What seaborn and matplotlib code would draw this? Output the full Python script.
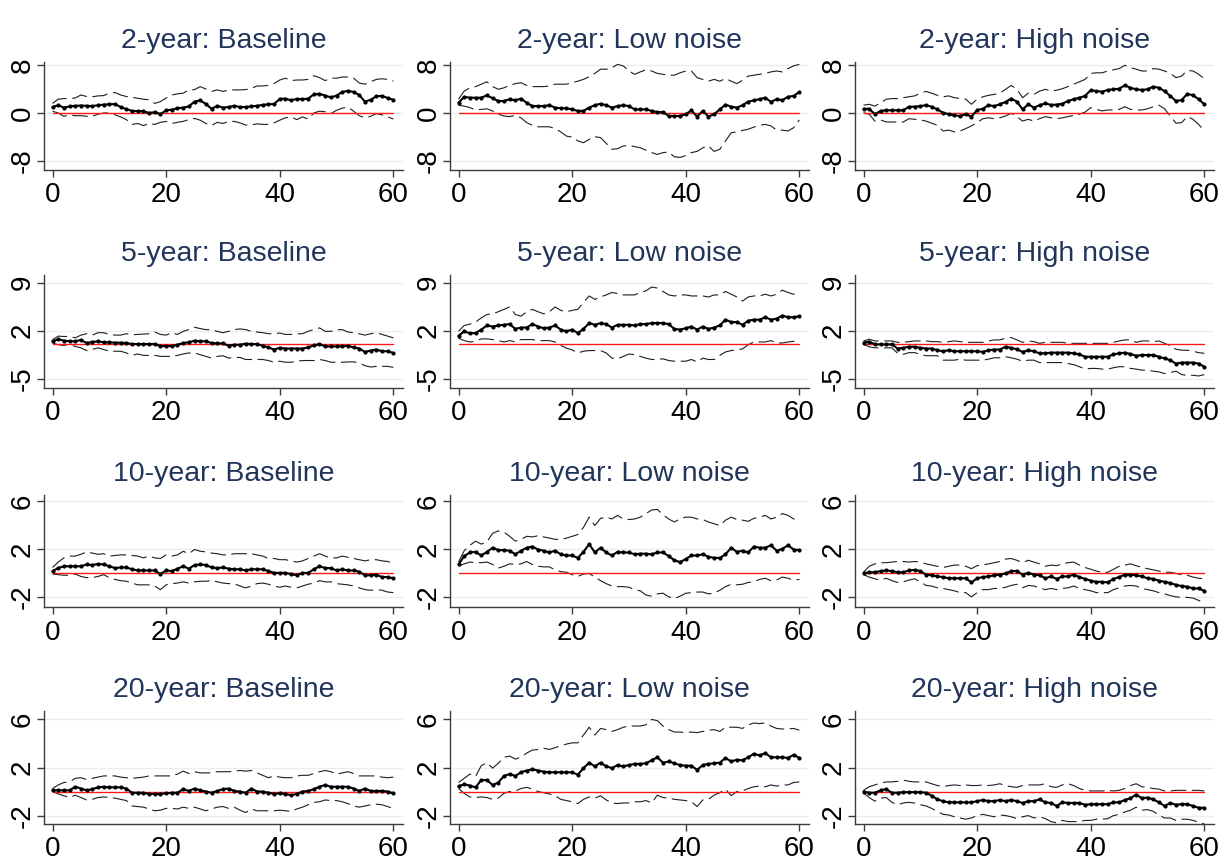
import numpy as np
import pandas as pd
import matplotlib
matplotlib.use("Agg")
import matplotlib.pyplot as plt
import seaborn as sns

sns.set_theme(style="white")
plt.rcParams["font.family"] = ["Liberation Sans", "DejaVu Sans"]
plt.rcParams["axes.unicode_minus"] = False

# ---------------- data ----------------
horizon = list(range(61))
maturities = ["2-year", "5-year", "10-year", "20-year"]
scenarios = ["Baseline", "Low noise", "High noise"]
yticks_by_row = [[-8, 0, 8], [-5, 2, 9], [-2, 2, 6], [-2, 2, 6]]
xticks = [0, 20, 40, 60]

# 2-year
m2_base = [1.0, 1.3, 0.9, 1.1, 1.2, 1.25, 1.2, 1.15, 1.3, 1.4, 1.45,
           1.5, 1.0, 0.65, 0.35, 0.3, 0.3, 0.0, 0.15, -0.2, 0.45,
           0.55, 0.8, 0.9, 1.1, 1.9, 2.1, 1.5, 0.7, 1.2, 0.9,
           1.0, 1.2, 1.0, 1.0, 1.1, 1.2, 1.35, 1.45, 1.5, 2.35,
           2.4, 2.1, 2.35, 2.3, 2.4, 3.1, 3.2, 2.9, 2.6, 2.9,
           3.5, 3.7, 3.5, 3.0, 1.9, 2.2, 2.8, 2.85, 2.5, 2.2]
u2_base = [1.6, 2.3, 2.4, 2.4, 2.5, 3.0, 2.75, 2.7, 2.85, 2.9, 3.3,
           3.4, 3.0, 2.75, 2.6, 2.45, 2.3, 2.2, 1.6, 1.9, 2.5,
           3.0, 3.2, 3.3, 3.85, 3.9, 4.4, 4.0, 3.6, 3.85, 3.6,
           3.8, 3.85, 3.85, 3.9, 4.1, 4.5, 4.5, 4.6, 4.9, 5.5,
           5.8, 5.4, 5.5, 5.5, 5.6, 6.2, 5.9, 5.4, 5.8, 5.8,
           6.0, 6.0, 5.8, 5.0, 4.8, 5.2, 5.6, 5.7, 5.6, 5.3]
l2_base = [0.3, 0.0, -0.55, -0.3, -0.45, -0.45, -0.55, -0.55, -0.2, 0.0, 0.0,
           -0.3, -0.65, -1.1, -1.9, -1.75, -2.1, -1.75, -1.9, -1.55, -1.4,
           -1.75, -1.55, -1.4, -1.1, -0.9, -1.2, -1.75, -2.1, -1.55, -1.75,
           -1.4, -1.4, -1.65, -2.0, -2.0, -1.8, -1.9, -1.9, -1.65, -1.2,
           -0.8, -0.65, -1.1, -0.65, -1.0, 0.0, 0.3, 0.2, -0.1, 0.45,
           0.8, 1.0, 0.3, -0.45, -0.8, -0.55, -0.1, -0.3, -0.65, -1.0]

m2_low = [1.7, 2.7, 2.55, 2.55, 2.55, 2.95, 2.45, 2.0, 2.0, 2.3, 2.1,
          2.4, 1.7, 1.15, 1.15, 1.15, 1.3, 0.9, 0.8, 0.8, 0.6,
          0.35, 0.35, 0.9, 1.3, 1.55, 1.3, 0.9, 1.15, 1.3, 1.15,
          0.6, 0.6, 0.6, 0.35, 0.15, 0.15, -0.5, -0.5, -0.5, -0.2,
          0.45, -0.6, 0.35, -0.6, -0.2, 0.6, 1.4, 1.05, 0.9, 1.3,
          1.9, 2.1, 2.3, 2.55, 1.85, 2.3, 2.15, 2.7, 2.85, 3.5]
u2_low = [2.3, 3.65, 4.2, 4.4, 4.8, 5.2, 4.4, 3.95, 4.2, 4.6, 4.9,
          5.05, 4.6, 4.4, 4.4, 4.4, 4.5, 4.8, 4.8, 4.8, 5.05,
          5.3, 5.6, 6.05, 6.6, 7.3, 7.3, 7.55, 8.1, 7.85, 7.0,
          6.45, 6.85, 7.2, 7.0, 6.6, 6.45, 6.3, 6.3, 6.7, 7.0,
          7.0, 5.9, 5.6, 5.3, 5.6, 5.3, 5.75, 5.3, 4.9, 5.45,
          6.15, 6.3, 6.45, 6.6, 6.85, 7.0, 6.85, 7.4, 7.85, 8.1]
l2_low = [1.3, 1.15, 0.9, 0.5, 0.6, 0.7, 0.35, -0.2, -0.5, -0.6, -0.4,
          -0.8, -1.6, -2.05, -2.3, -2.3, -2.3, -2.6, -3.15, -3.85, -4.0,
          -4.65, -4.95, -4.4, -3.95, -4.1, -5.05, -6.05, -5.95, -5.5, -5.4,
          -5.6, -5.8, -6.2, -6.6, -6.9, -6.6, -6.5, -7.3, -7.4, -7.1,
          -6.6, -6.4, -5.8, -5.5, -6.4, -6.05, -4.65, -3.3, -3.15, -2.9,
          -2.7, -2.35, -2.05, -1.9, -2.15, -2.85, -2.85, -3.0, -2.45, -1.15]

m2_high = [0.7, 0.7, -0.2, 0.35, 0.45, 0.45, 0.45, 0.45, 1.05, 1.05, 1.15,
           1.3, 1.05, 0.6, 0.05, -0.2, -0.4, -0.5, -0.2, -0.6, 0.5,
           0.7, 1.3, 1.15, 1.45, 1.85, 2.4, 1.9, 0.6, 1.45, 0.9,
           1.3, 1.6, 1.35, 1.4, 1.55, 2.0, 2.3, 2.55, 2.85, 3.8,
           3.65, 3.55, 3.85, 3.95, 4.05, 4.6, 4.2, 3.95, 3.85, 3.95,
           4.4, 4.2, 3.65, 2.85, 2.0, 2.15, 3.2, 2.95, 2.3, 1.45]
u2_high = [1.3, 1.45, 1.15, 1.7, 2.3, 2.4, 2.4, 2.55, 2.7, 2.85, 3.3,
           3.6, 3.3, 2.95, 2.7, 2.85, 2.55, 2.4, 2.3, 1.45, 2.3,
           2.7, 2.95, 3.1, 3.3, 3.95, 4.6, 3.95, 2.55, 3.3, 3.1,
           3.65, 3.95, 3.65, 3.8, 4.05, 4.4, 4.8, 5.2, 5.6, 6.6,
           6.7, 6.7, 7.0, 7.2, 7.4, 7.95, 7.55, 7.3, 7.0, 7.0,
           7.4, 7.3, 7.0, 6.6, 5.9, 6.15, 7.1, 7.0, 6.45, 5.7]
l2_high = [0.05, -0.2, -1.35, -1.15, -1.5, -1.5, -1.5, -1.5, -0.95, -1.05, -1.15,
           -1.35, -1.7, -2.05, -3.0, -2.85, -3.15, -3.0, -2.6, -2.15, -1.6,
           -0.95, -0.8, -0.95, -0.8, -0.5, -0.05, -0.6, -1.35, -1.05, -1.35,
           -0.95, -0.6, -0.8, -0.95, -0.8, -0.6, -0.4, -0.2, 0.15, 0.9,
           0.6, 0.35, 0.5, 0.5, 0.6, 1.05, 0.6, 0.5, 0.5, 0.7,
           1.05, 1.3, 0.7, -0.5, -1.7, -1.6, -0.6, -1.05, -1.9, -3.0]

# 5-year
m5_base = [0.45, 0.75, 0.55, 0.45, 0.45, 0.65, 0.2, 0.35, 0.45, 0.3, 0.3,
           0.25, 0.25, 0.2, 0.05, 0.05, 0.05, 0.05, 0.05, -0.25, -0.25,
           -0.25, -0.05, 0.2, 0.3, 0.55, 0.45, 0.45, 0.2, 0.15, 0.15,
           -0.2, -0.05, -0.05, 0.1, 0.05, 0.05, -0.2, -0.45, -0.75, -0.5,
           -0.6, -0.6, -0.6, -0.6, -0.45, -0.15, 0.05, -0.3, -0.3, -0.3,
           -0.3, -0.2, -0.45, -0.6, -1.1, -0.9, -0.75, -1.0, -1.0, -1.25]
u5_base = [0.7, 1.2, 1.15, 1.15, 0.95, 1.35, 1.55, 1.35, 1.7, 1.7, 1.45,
           1.35, 1.35, 1.55, 1.4, 1.45, 1.5, 1.55, 1.8, 1.45, 1.35,
           1.7, 1.45, 1.9, 2.15, 2.5, 2.3, 2.15, 2.15, 1.9, 1.7,
           1.9, 2.15, 2.25, 2.15, 1.9, 1.8, 1.7, 1.55, 1.55, 1.65,
           1.45, 1.45, 1.55, 1.55, 1.9, 2.15, 2.4, 1.9, 1.9, 2.15,
           2.15, 1.8, 1.7, 1.55, 1.35, 1.55, 1.7, 1.45, 1.2, 0.95]
l5_base = [0.2, -0.05, -0.15, 0.05, -0.3, -0.5, -0.9, -0.75, -0.5, -0.75, -1.0,
           -1.0, -1.0, -1.25, -1.6, -1.4, -1.6, -1.6, -1.6, -1.75, -1.75,
           -1.75, -1.6, -1.4, -1.25, -1.25, -1.5, -1.75, -2.0, -1.75, -1.65,
           -2.0, -1.9, -1.9, -2.2, -2.2, -2.2, -2.2, -2.35, -2.6, -2.45,
           -2.6, -2.6, -2.45, -2.35, -2.35, -2.35, -2.2, -2.35, -2.6, -2.6,
           -2.6, -2.55, -2.55, -2.7, -3.1, -3.3, -3.2, -3.2, -3.2, -3.35]

m5_low = [1.25, 1.9, 1.6, 1.65, 2.15, 2.75, 2.6, 2.75, 2.85, 2.95, 2.25,
          2.45, 2.45, 2.95, 2.6, 2.35, 2.45, 2.75, 2.15, 1.9, 2.15,
          1.65, 2.25, 3.1, 2.85, 3.1, 2.95, 2.45, 2.85, 2.85, 2.85,
          2.75, 2.95, 2.95, 3.1, 3.1, 3.1, 2.95, 2.25, 2.15, 2.35,
          2.6, 2.15, 2.6, 2.25, 2.45, 2.75, 3.6, 3.25, 3.25, 2.85,
          3.45, 3.6, 3.6, 3.95, 3.6, 3.75, 4.2, 3.95, 3.95, 4.1]
u5_low = [1.9, 2.75, 2.95, 3.25, 3.85, 4.35, 4.45, 4.75, 5.1, 5.45, 4.35,
          4.1, 4.75, 5.1, 4.75, 4.45, 4.75, 5.45, 4.95, 4.75, 4.95,
          5.1, 6.1, 7.05, 6.55, 6.9, 7.2, 7.55, 7.4, 7.2, 7.2,
          7.2, 7.55, 7.8, 8.35, 8.2, 7.7, 7.2, 7.05, 7.2, 7.2,
          7.05, 7.05, 7.05, 6.9, 7.2, 7.2, 7.7, 7.3, 6.9, 6.3,
          6.9, 7.05, 7.05, 7.3, 7.05, 7.3, 7.9, 7.55, 7.3, 7.2]
l5_low = [0.9, 0.55, 0.35, 0.45, 0.8, 0.8, 0.7, 0.55, 0.35, 0.55, 0.35,
          0.7, 0.7, 0.7, 0.55, 0.55, 0.55, 0.35, -0.15, -0.55, -0.8,
          -1.25, -1.0, -0.9, -0.9, -0.9, -1.25, -2.0, -2.1, -1.75, -1.4,
          -1.5, -1.75, -2.0, -2.2, -2.2, -2.1, -2.35, -2.45, -2.45, -2.45,
          -2.2, -2.55, -2.0, -2.2, -2.2, -1.6, -1.1, -0.9, -0.8, -0.65,
          -0.05, 0.35, 0.35, 0.35, 0.55, 0.2, 0.2, 0.35, 0.45, 0.7]

m5_high = [0.25, 0.4, 0.0, 0.0, 0.0, 0.0, -0.6, -0.5, -0.35, -0.35, -0.5,
           -0.6, -0.6, -0.85, -1.0, -0.85, -1.0, -1.0, -1.0, -1.0, -1.0,
           -1.1, -0.85, -0.75, -0.75, -0.35, -0.5, -0.7, -1.1, -0.85, -1.0,
           -1.3, -1.3, -1.2, -1.2, -1.2, -1.2, -1.3, -1.45, -1.8, -1.8,
           -1.8, -1.8, -1.8, -1.45, -1.3, -1.2, -1.4, -1.65, -1.55, -1.55,
           -1.55, -1.8, -2.05, -2.3, -2.8, -2.65, -2.65, -2.65, -2.8, -3.25]
u5_high = [0.5, 0.75, 0.5, 0.5, 0.5, 0.5, 0.3, 0.3, 0.4, 0.5, 0.5,
           0.5, 0.4, 0.4, 0.3, 0.4, 0.5, 0.4, 0.3, 0.3, 0.3,
           0.3, 0.5, 0.65, 0.65, 0.9, 1.0, 0.65, 0.3, 0.5, 0.4,
           0.15, 0.3, 0.3, 0.3, 0.3, 0.15, 0.15, 0.15, 0.15, 0.15,
           0.15, 0.15, 0.15, 0.3, 0.5, 0.65, 0.65, 0.3, 0.5, 0.5,
           0.4, 0.5, 0.15, -0.2, -0.7, -0.85, -0.85, -1.0, -1.2, -1.3]
l5_high = [0.0, -0.35, -0.5, -0.5, -0.5, -0.5, -1.3, -1.45, -1.2, -1.2, -1.45,
           -1.65, -1.65, -1.65, -2.3, -2.3, -2.3, -2.15, -2.3, -2.3, -2.3,
           -2.3, -2.15, -1.95, -1.95, -1.8, -1.95, -2.15, -2.45, -2.3, -2.3,
           -2.65, -2.65, -2.65, -2.65, -2.65, -2.8, -2.95, -3.25, -3.6, -3.5,
           -3.5, -3.6, -3.6, -3.4, -3.25, -3.25, -3.5, -3.6, -3.75, -3.75,
           -3.9, -4.0, -4.25, -4.1, -3.9, -4.4, -4.5, -4.5, -4.6, -4.4]

# 10-year
m10_base = [0.15, 0.4, 0.55, 0.55, 0.55, 0.55, 0.7, 0.65, 0.75, 0.7, 0.55,
            0.4, 0.45, 0.45, 0.3, 0.2, 0.2, 0.2, 0.2, -0.1, 0.2,
            0.15, 0.35, 0.55, 0.35, 0.65, 0.7, 0.65, 0.45, 0.4, 0.45,
            0.35, 0.3, 0.3, 0.2, 0.3, 0.3, 0.3, 0.15, 0.0, 0.0,
            0.0, -0.1, -0.2, 0.0, 0.0, 0.3, 0.55, 0.4, 0.4, 0.2,
            0.3, 0.2, 0.2, 0.1, -0.2, -0.2, -0.15, -0.35, -0.35, -0.45]
u10_base = [0.45, 0.9, 1.25, 1.4, 1.4, 1.55, 1.75, 1.65, 1.55, 1.6, 1.4,
            1.45, 1.5, 1.5, 1.45, 1.4, 1.25, 1.4, 1.25, 1.2, 1.5,
            1.4, 1.5, 1.8, 1.6, 1.95, 1.8, 1.75, 1.65, 1.6, 1.5,
            1.5, 1.6, 1.6, 1.6, 1.6, 1.5, 1.4, 1.2, 1.2, 1.1,
            1.1, 1.0, 0.9, 1.0, 1.2, 1.4, 1.6, 1.4, 1.25, 1.25,
            1.4, 1.3, 1.2, 1.1, 1.0, 1.1, 1.1, 1.0, 0.95, 0.8]
l10_base = [-0.1, -0.15, -0.2, -0.2, -0.1, -0.3, -0.4, -0.4, -0.3, -0.15, -0.4,
            -0.55, -0.65, -0.7, -0.85, -1.0, -1.0, -1.0, -1.1, -1.4, -1.0,
            -0.9, -0.85, -0.75, -0.85, -0.75, -0.7, -0.7, -0.65, -0.75, -0.85,
            -0.9, -0.9, -1.1, -1.25, -1.1, -0.9, -0.85, -0.95, -1.1, -1.2,
            -1.1, -1.2, -1.25, -1.1, -0.95, -0.85, -0.65, -0.75, -0.75, -0.9,
            -0.95, -1.0, -1.1, -1.25, -1.4, -1.45, -1.4, -1.45, -1.6, -1.65]

m10_low = [0.7, 1.4, 1.7, 1.75, 1.45, 1.75, 2.1, 1.9, 1.9, 1.85, 1.55,
           1.85, 2.1, 2.2, 1.95, 1.85, 1.7, 1.85, 1.55, 1.45, 1.45,
           1.25, 1.75, 2.4, 1.7, 2.1, 1.7, 1.45, 1.75, 1.7, 1.7,
           1.55, 1.6, 1.6, 1.55, 1.7, 1.7, 1.4, 1.05, 0.9, 1.15,
           1.45, 1.45, 1.55, 1.35, 1.25, 1.25, 1.55, 2.1, 1.75, 1.85,
           1.7, 2.2, 2.1, 2.1, 2.3, 1.85, 2.0, 2.3, 1.95, 1.9]
u10_low = [0.9, 1.85, 2.3, 2.65, 2.4, 2.6, 3.3, 3.5, 3.4, 3.05, 2.65,
           2.8, 3.05, 3.0, 3.1, 3.0, 2.9, 2.8, 2.8, 2.9, 3.05,
           3.2, 3.8, 4.65, 3.95, 4.55, 4.65, 4.5, 4.8, 4.5, 4.45,
           4.5, 4.65, 4.95, 5.25, 5.3, 4.85, 4.5, 4.25, 4.5, 4.65,
           4.65, 4.5, 4.45, 4.25, 4.1, 3.95, 4.4, 4.65, 4.45, 4.4,
           4.3, 4.55, 4.65, 4.8, 4.5, 4.65, 4.95, 4.8, 4.5, 4.45]
l10_low = [0.55, 0.75, 0.9, 0.85, 0.85, 0.9, 0.7, 0.4, 0.55, 0.75, 0.7,
           0.75, 0.95, 0.7, 0.55, 0.5, 0.5, 0.25, 0.1, 0.05, -0.15,
           -0.3, -0.1, -0.05, -0.35, -0.65, -0.9, -1.1, -1.15, -1.15, -1.2,
           -1.4, -1.5, -1.85, -1.95, -1.75, -1.7, -2.0, -2.15, -1.95, -1.7,
           -1.65, -1.6, -1.6, -1.75, -1.7, -1.45, -1.15, -0.95, -1.0, -0.95,
           -0.8, -0.75, -0.55, -0.45, -0.65, -0.6, -0.35, -0.45, -0.6, -0.55]

m10_high = [-0.05, 0.05, 0.05, 0.15, 0.2, 0.15, 0.05, 0.05, 0.2, 0.25, 0.15,
            -0.15, -0.2, -0.3, -0.35, -0.45, -0.45, -0.45, -0.45, -0.8, -0.45,
            -0.35, -0.3, -0.2, -0.15, -0.05, 0.15, 0.15, -0.15, 0.0, -0.15,
            -0.2, -0.45, -0.3, -0.5, -0.3, -0.3, -0.15, -0.35, -0.5, -0.65,
            -0.75, -0.75, -0.8, -0.5, -0.35, -0.15, -0.15, -0.2, -0.3, -0.45,
            -0.5, -0.65, -0.75, -0.85, -1.0, -1.1, -1.15, -1.3, -1.3, -1.5]
u10_high = [0.05, 0.55, 0.75, 0.85, 0.85, 0.9, 0.95, 0.95, 0.9, 0.95, 0.9,
            0.75, 0.65, 0.55, 0.45, 0.55, 0.65, 0.65, 0.55, 0.35, 0.6,
            0.65, 0.75, 0.85, 0.95, 1.15, 1.2, 1.05, 0.85, 1.05, 0.9,
            0.75, 0.55, 0.65, 0.6, 0.75, 0.85, 0.9, 0.65, 0.45, 0.3,
            0.15, 0.05, 0.05, 0.3, 0.55, 0.65, 0.75, 0.6, 0.45, 0.35,
            0.25, 0.15, 0.05, 0.05, -0.05, -0.15, -0.2, -0.35, -0.45, -0.5]
l10_high = [-0.15, -0.35, -0.5, -0.6, -0.45, -0.65, -0.8, -0.75, -0.6, -0.5, -0.75,
            -1.05, -1.1, -1.25, -1.3, -1.4, -1.5, -1.65, -1.65, -2.0, -1.65,
            -1.4, -1.4, -1.3, -1.3, -1.2, -1.05, -0.95, -1.25, -1.05, -1.1,
            -1.25, -1.4, -1.3, -1.4, -1.3, -1.25, -1.1, -1.3, -1.4, -1.5,
            -1.65, -1.65, -1.65, -1.4, -1.25, -1.1, -1.05, -1.1, -1.3, -1.4,
            -1.5, -1.65, -1.75, -1.9, -2.0, -2.05, -2.05, -2.1, -2.3, -2.5]

# 20-year
m20_base = [0.1, 0.1, 0.1, 0.1, 0.4, 0.25, 0.1, 0.2, 0.35, 0.4, 0.35,
            0.35, 0.35, 0.25, -0.1, -0.1, -0.1, -0.2, -0.2, -0.2, -0.15,
            -0.1, -0.1, 0.2, 0.05, 0.25, 0.1, 0.0, -0.1, 0.05, 0.2,
            0.25, 0.05, 0.0, -0.1, 0.25, 0.0, 0.0, -0.1, -0.2, -0.15,
            -0.2, -0.3, -0.2, 0.0, 0.05, 0.2, 0.4, 0.55, 0.4, 0.4,
            0.4, 0.4, 0.25, 0.05, 0.25, 0.05, 0.05, 0.05, 0.0, -0.15]
u20_base = [0.25, 0.55, 0.75, 0.8, 1.1, 1.15, 1.0, 1.1, 1.2, 1.3, 1.3,
            1.3, 1.2, 1.15, 1.1, 1.15, 1.2, 1.3, 1.3, 1.3, 1.3,
            1.3, 1.45, 1.7, 1.5, 1.65, 1.55, 1.55, 1.55, 1.65, 1.65,
            1.65, 1.7, 1.75, 1.7, 1.75, 1.55, 1.35, 1.15, 1.3, 1.2,
            1.15, 1.15, 1.3, 1.35, 1.35, 1.5, 1.65, 1.75, 1.65, 1.45,
            1.55, 1.65, 1.5, 1.3, 1.3, 1.3, 1.3, 1.2, 1.15, 1.2]
l20_base = [0.0, -0.2, -0.35, -0.5, -0.3, -0.5, -0.7, -0.65, -0.5, -0.45, -0.5,
            -0.55, -0.65, -0.75, -1.2, -1.25, -1.3, -1.45, -1.6, -1.55, -1.4,
            -1.4, -1.45, -1.3, -1.4, -1.3, -1.45, -1.6, -1.45, -1.3, -1.25,
            -1.4, -1.3, -1.55, -1.75, -1.45, -1.6, -1.6, -1.6, -1.6, -1.55,
            -1.6, -1.65, -1.45, -1.3, -1.1, -0.9, -0.85, -0.7, -0.75, -0.75,
            -0.85, -1.0, -1.2, -1.3, -1.2, -1.1, -1.05, -1.1, -1.25, -1.4]

m20_low = [0.45, 0.6, 0.5, 0.35, 0.95, 0.95, 0.55, 0.75, 1.3, 1.45, 1.3,
           1.6, 1.75, 1.85, 1.75, 1.65, 1.6, 1.6, 1.6, 1.6, 1.6,
           1.4, 1.95, 2.4, 2.1, 2.4, 2.1, 1.95, 2.2, 2.1, 2.2,
           2.3, 2.3, 2.35, 2.6, 2.85, 2.4, 2.5, 2.35, 2.2, 2.15,
           2.15, 1.8, 2.2, 2.3, 2.35, 2.4, 2.8, 2.5, 2.65, 2.6,
           2.85, 3.15, 3.0, 3.2, 2.85, 2.85, 2.85, 2.8, 3.05, 2.8]
u20_low = [0.75, 1.1, 1.45, 1.25, 2.15, 2.4, 1.95, 2.35, 2.85, 2.95, 2.7,
           2.85, 3.2, 3.45, 3.5, 3.6, 3.5, 3.65, 3.8, 3.95, 4.05,
           4.05, 4.7, 5.35, 4.7, 5.25, 5.15, 5.0, 5.15, 5.35, 5.45,
           5.45, 5.45, 5.55, 6.0, 5.9, 5.45, 5.15, 4.95, 4.95, 4.9,
           4.95, 4.9, 5.0, 5.1, 5.15, 5.0, 5.35, 5.35, 5.35, 5.25,
           5.55, 5.7, 5.65, 5.7, 5.45, 5.25, 5.2, 5.2, 5.25, 5.1]
l20_low = [0.25, -0.15, -0.45, -0.5, -0.45, -0.5, -0.65, -0.55, -0.15, 0.0, 0.05,
           0.25, 0.35, 0.2, 0.0, -0.1, -0.2, -0.35, -0.65, -0.75, -0.85,
           -1.0, -0.65, -0.45, -0.55, -0.35, -0.7, -0.95, -1.0, -0.95, -0.95,
           -0.85, -0.85, -0.75, -0.95, -0.3, -0.5, -0.55, -0.65, -0.7, -0.75,
           -0.85, -1.25, -0.7, -0.65, -0.3, -0.1, 0.2, -0.35, 0.0, 0.05,
           0.25, 0.4, 0.45, 0.4, 0.55, 0.45, 0.55, 0.55, 0.75, 0.8]

m20_high = [0.0, -0.1, -0.1, 0.1, 0.2, -0.1, -0.1, -0.05, -0.05, -0.05, -0.05,
            -0.1, -0.35, -0.65, -0.8, -0.9, -0.9, -0.9, -0.9, -0.9, -0.8,
            -0.7, -0.8, -0.8, -0.7, -0.8, -0.7, -0.8, -0.95, -0.8, -0.8,
            -0.65, -0.9, -0.95, -1.2, -0.9, -0.95, -0.95, -0.95, -1.1, -1.05,
            -1.05, -1.05, -1.05, -0.9, -0.9, -0.7, -0.55, -0.25, -0.55, -0.5,
            -0.65, -0.9, -1.2, -0.95, -1.1, -1.05, -1.05, -1.2, -1.35, -1.35]
u20_high = [0.1, 0.4, 0.55, 0.7, 0.8, 0.8, 0.85, 0.95, 0.85, 0.8, 0.8,
            0.8, 0.65, 0.5, 0.4, 0.5, 0.55, 0.5, 0.55, 0.5, 0.5,
            0.55, 0.5, 0.55, 0.65, 0.5, 0.4, 0.35, 0.5, 0.55, 0.55,
            0.55, 0.65, 0.4, 0.35, 0.55, 0.65, 0.5, 0.25, 0.1, 0.05,
            0.05, 0.05, 0.1, 0.05, 0.1, 0.25, 0.5, 0.65, 0.4, 0.35,
            0.25, 0.2, 0.05, 0.05, 0.1, 0.1, 0.1, 0.1, 0.1, 0.05]
l20_high = [-0.1, -0.5, -0.8, -0.55, -0.5, -0.9, -1.1, -0.95, -0.9, -0.95, -1.1,
            -1.2, -1.4, -1.65, -1.9, -1.95, -2.1, -2.2, -2.3, -2.2, -2.0,
            -1.9, -2.0, -2.1, -1.95, -2.0, -2.1, -2.25, -2.1, -2.0, -2.2,
            -2.1, -2.25, -2.5, -2.6, -2.4, -2.5, -2.5, -2.5, -2.4, -2.4,
            -2.3, -2.3, -2.25, -2.0, -1.9, -1.7, -1.55, -1.3, -1.55, -1.5,
            -1.65, -1.95, -2.2, -2.2, -2.4, -2.3, -2.3, -2.4, -2.55, -2.7]

panels = [
    [(m2_base, u2_base, l2_base), (m2_low, u2_low, l2_low), (m2_high, u2_high, l2_high)],
    [(m5_base, u5_base, l5_base), (m5_low, u5_low, l5_low), (m5_high, u5_high, l5_high)],
    [(m10_base, u10_base, l10_base), (m10_low, u10_low, l10_low), (m10_high, u10_high, l10_high)],
    [(m20_base, u20_base, l20_base), (m20_low, u20_low, l20_low), (m20_high, u20_high, l20_high)],
]

# ---------------- layout ----------------
W, H = 1232, 867
fig = plt.figure(figsize=(W / 100, H / 100), dpi=100)
fig.patch.set_facecolor("white")

col_left = [44, 450, 855]
ax_w = 359
row_top = [62, 275, 495, 711]
row_bot = [170, 388, 607, 824]
row_ylim = [(-9.5, 8.5), (-6.35, 10.1), (-2.85, 6.5), (-2.7, 6.7)]

title_color = "#213459"
axis_color = "#3c3c3c"

for r in range(4):
    for c in range(3):
        left = col_left[c] / W
        bottom = 1 - row_bot[r] / H
        height = (row_bot[r] - row_top[r]) / H
        ax = fig.add_axes([left, bottom, ax_w / W, height])
        mean, upper, lower = panels[r][c]
        df = pd.DataFrame({"h": horizon, "mean": mean, "upper": upper,
                           "lower": lower, "zero": np.zeros(len(horizon))})

        sns.lineplot(data=df, x="h", y="upper", ax=ax, color="#1e1e1e",
                     linewidth=0.8, linestyle=(0, (14, 5)), zorder=2)
        sns.lineplot(data=df, x="h", y="lower", ax=ax, color="#1e1e1e",
                     linewidth=0.8, linestyle=(0, (14, 5)), zorder=2)
        sns.lineplot(data=df, x="h", y="zero", ax=ax, color="#ff1a1a",
                     linewidth=1.0, zorder=3)
        sns.lineplot(data=df, x="h", y="mean", ax=ax, color="black",
                     linewidth=1.5, marker="o", markersize=3.0,
                     markeredgewidth=0, zorder=4)

        ax.set_xlim(-1.5, 61.7)
        ax.set_ylim(*row_ylim[r])
        ax.set_xticks(xticks)
        ax.set_yticks(yticks_by_row[r])
        ax.set_xlabel("")
        ax.set_ylabel("")

        ax.yaxis.grid(True, color="#e6eef0", linewidth=1.0)
        ax.xaxis.grid(False)
        ax.set_axisbelow(True)

        for side in ["top", "right"]:
            ax.spines[side].set_visible(False)
        for side in ["left", "bottom"]:
            ax.spines[side].set_color(axis_color)
            ax.spines[side].set_linewidth(1.0)

        ax.tick_params(axis="x", direction="out", length=5, width=1,
                       color=axis_color, labelsize=20, pad=4,
                       labelcolor="black", bottom=True)
        ax.tick_params(axis="y", direction="out", length=5, width=1,
                       color=axis_color, labelsize=20, pad=1,
                       labelcolor="black", left=True, labelrotation=90)
        for lab in ax.get_yticklabels():
            lab.set_va("center")

        ax.set_title(f"{maturities[r]}: {scenarios[c]}", fontsize=20.5,
                     color=title_color, pad=10)

fig.savefig("out.png", dpi=100, facecolor="white")
